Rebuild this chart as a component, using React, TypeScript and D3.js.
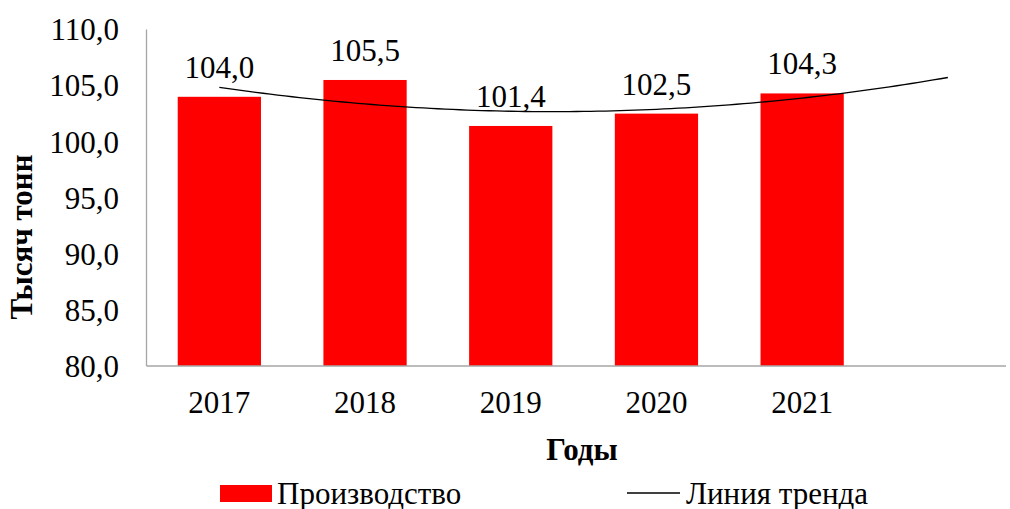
import React from "react";
import * as d3 from "d3";

const categories: string[] = ["2017", "2018", "2019", "2020", "2021"];
const production: number[] = [104.0, 105.5, 101.4, 102.5, 104.3];
const yTicks: number[] = [80, 85, 90, 95, 100, 105, 110];
const forecastForward = 1;

const W = 1010;
const H = 509;
const FONT = "Liberation Serif, Times New Roman, serif";
const FS = 31;

// quadratic least-squares trend (Excel polynomial trendline, order 2)
function polyFit2(ys: number[]) {
  const xs = ys.map((_, i) => i + 1);
  const S = [0, 0, 0, 0, 0];
  const T = [0, 0, 0];
  xs.forEach((x, i) => {
    for (let k = 0; k < 5; k++) S[k] += Math.pow(x, k);
    for (let k = 0; k < 3; k++) T[k] += Math.pow(x, k) * ys[i];
  });
  const A = [
    [S[0], S[1], S[2], T[0]],
    [S[1], S[2], S[3], T[1]],
    [S[2], S[3], S[4], T[2]],
  ];
  for (let i = 0; i < 3; i++) {
    const p = A[i][i];
    for (let j = i; j < 4; j++) A[i][j] /= p;
    for (let r = 0; r < 3; r++) {
      if (r === i) continue;
      const f = A[r][i];
      for (let j = i; j < 4; j++) A[r][j] -= f * A[i][j];
    }
  }
  const [a, b, c] = [A[0][3], A[1][3], A[2][3]];
  return (x: number) => a + b * x + c * x * x;
}

export default function App() {
  const left = 146.5;
  const right = 1006;
  const top = 29.5;
  const bottom = 366;
  const step = 145.7;

  const y = d3.scaleLinear().domain([80, 110]).range([bottom, top]);
  const xc = d3.scaleLinear().domain([0, 1]).range([left + step / 2, left + step * 1.5]);
  const barW = step / 1.75;

  const trend = polyFit2(production);
  const tPts: [number, number][] = d3
    .range(0, production.length - 1 + forecastForward + 0.001, 0.05)
    .map((i) => [xc(i), y(trend(i + 1))]);
  const line = d3.line()(tPts) || "";

  const fmt = (v: number) => v.toFixed(1).replace(".", ",");

  return (
    <svg width={W} height={H} style={{ position: "absolute", left: 0, top: 0, background: "#fff" }}>
      <rect x={0} y={0} width={W} height={H} fill="#fff" />
      {production.map((v, i) => (
        <rect key={i} x={xc(i) - barW / 2} y={y(v)} width={barW} height={bottom - y(v)} fill="#FF0000" />
      ))}
      <line x1={left} x2={left} y1={top} y2={bottom} stroke="#A6A6A6" strokeWidth={1.3} />
      <line x1={left} x2={right} y1={bottom} y2={bottom} stroke="#A6A6A6" strokeWidth={1.3} />
      <path d={line} fill="none" stroke="#000" strokeWidth={1.3} />
      {yTicks.map((t) => (
        <text key={t} x={119} y={y(t)} dy="0.35em" textAnchor="end" fontFamily={FONT} fontSize={FS} fill="#000">
          {fmt(t)}
        </text>
      ))}
      {categories.map((c, i) => (
        <text key={c} x={xc(i)} y={413} textAnchor="middle" fontFamily={FONT} fontSize={FS} fill="#000">
          {c}
        </text>
      ))}
      {production.map((v, i) => (
        <text key={i} x={xc(i)} y={y(v) - 19} textAnchor="middle" fontFamily={FONT} fontSize={FS} fill="#000">
          {fmt(v)}
        </text>
      ))}
      <text x={582} y={460} textAnchor="middle" fontFamily={FONT} fontSize={FS} fontWeight="bold" fill="#000">
        Годы
      </text>
      <text
        transform={`translate(32,237) rotate(-90)`}
        textAnchor="middle"
        fontFamily={FONT}
        fontSize={FS}
        fontWeight="bold"
        fill="#000"
      >
        Тысяч тонн
      </text>
      <rect x={220} y={485} width={52} height={17} fill="#FF0000" />
      <text x={277} y={504} fontFamily={FONT} fontSize={FS} fill="#000">
        Производство
      </text>
      <line x1={627} x2={680} y1={493} y2={493} stroke="#000" strokeWidth={1.3} />
      <text x={686} y={504} fontFamily={FONT} fontSize={FS} fill="#000">
        Линия тренда
      </text>
    </svg>
  );
}
